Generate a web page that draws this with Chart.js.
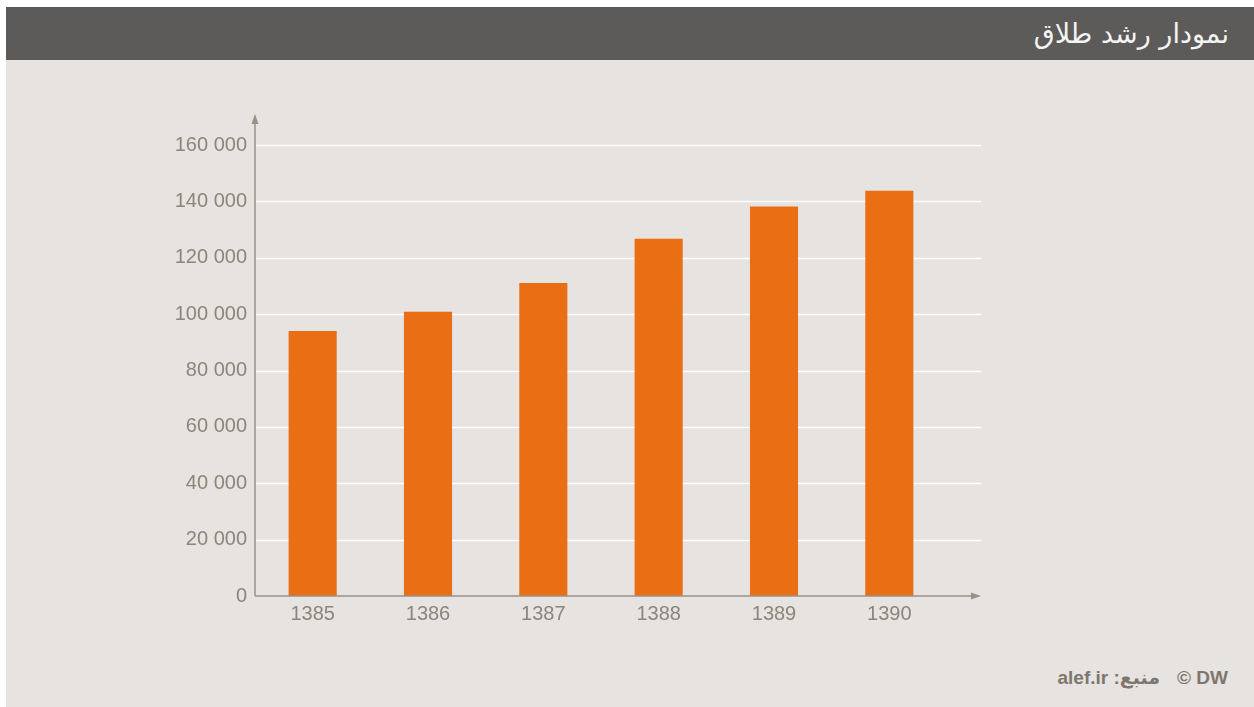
<!DOCTYPE html>
<html>
<head>
<meta charset="utf-8">
<script src="https://cdn.jsdelivr.net/npm/chart.js@4.4.0/dist/chart.umd.min.js"></script>
<style>
  html, body { margin: 0; padding: 0; background: #ffffff; width: 1254px; height: 707px; overflow: hidden; }
  #panel { position: absolute; left: 6px; top: 7px; width: 1248px; height: 700px; background: #e6e3e0; }
  #titlebar { position: absolute; left: 6px; top: 7px; width: 1248px; height: 53px; background: #5c5b59; }
  #title { position: absolute; right: 25px; top: 7px; height: 53px; line-height: 53px; color: #f4f4f4;
           font-family: "DejaVu Sans", Arial, sans-serif; font-size: 27px; direction: rtl; }
  #footer { position: absolute; right: 26px; top: 666px; display: flex; align-items: center; gap: 17px;
            font-family: "Liberation Sans", Arial, "DejaVu Sans", sans-serif; font-weight: bold; font-size: 19px; color: #7d776e; }
  #chart { position: absolute; left: 0; top: 0; }
</style>
</head>
<body>
<div id="panel"></div>
<div id="titlebar"></div>
<div id="title">نمودار رشد طلاق</div>
<div id="footer"><span dir="rtl">منبع: alef.ir</span><span>© DW</span></div>
<canvas id="chart" width="1254" height="707"></canvas>
<script>
const categories = ['1385', '1386', '1387', '1388', '1389', '1390'];
const divorces = [94000, 100800, 111000, 126700, 138200, 143800];
const yTicks = [0, 20000, 40000, 60000, 80000, 100000, 120000, 140000, 160000];

const AXIS_COLOR = '#9a9288';
const TICK_COLOR = '#8c857b';
const GRID_EXT = 34;

function fmt(v) { return String(v).replace(/\B(?=(\d{3})+(?!\d))/g, ' '); }

const decor = {
  id: 'decor',
  beforeDatasetsDraw(chart) {
    const ctx = chart.ctx, a = chart.chartArea, y = chart.scales.y;
    ctx.save();
    ctx.strokeStyle = '#ffffff';
    ctx.lineWidth = 1.5;
    yTicks.forEach(t => {
      if (t === 0) return;
      const py = Math.round(y.getPixelForValue(t)) + 0.5;
      ctx.beginPath();
      ctx.moveTo(a.left, py);
      ctx.lineTo(a.right + GRID_EXT, py);
      ctx.stroke();
    });
    ctx.restore();
  },
  afterDatasetsDraw(chart) {
    const ctx = chart.ctx, a = chart.chartArea, y = chart.scales.y;
    const x0 = a.left, y0 = y.getPixelForValue(0);
    const xEnd = a.right + GRID_EXT, yEnd = a.top - 31;
    ctx.save();
    ctx.strokeStyle = AXIS_COLOR;
    ctx.fillStyle = AXIS_COLOR;
    ctx.lineWidth = 1.5;
    ctx.beginPath();
    ctx.moveTo(x0, y0);
    ctx.lineTo(x0, yEnd + 6);
    ctx.moveTo(x0, y0);
    ctx.lineTo(xEnd - 6, y0);
    ctx.stroke();
    ctx.beginPath();
    ctx.moveTo(x0, yEnd);
    ctx.lineTo(x0 - 3.5, yEnd + 10);
    ctx.lineTo(x0 + 3.5, yEnd + 10);
    ctx.closePath();
    ctx.fill();
    ctx.beginPath();
    ctx.moveTo(xEnd, y0);
    ctx.lineTo(xEnd - 10, y0 - 3.5);
    ctx.lineTo(xEnd - 10, y0 + 3.5);
    ctx.closePath();
    ctx.fill();
    ctx.restore();
  }
};

new Chart(document.getElementById('chart'), {
  type: 'bar',
  data: {
    labels: categories,
    datasets: [{
      data: divorces,
      backgroundColor: '#ea6e14',
      borderWidth: 0,
      categoryPercentage: 1,
      barPercentage: 0.417
    }]
  },
  options: {
    responsive: false,
    animation: false,
    layout: { padding: { left: 0, top: 145, right: 307, bottom: 71 } },
    plugins: { legend: { display: false }, tooltip: { enabled: false } },
    scales: {
      x: {
        grid: { display: false, drawTicks: false },
        border: { display: false },
        ticks: { color: TICK_COLOR, font: { family: 'Liberation Sans, Arial, sans-serif', size: 20 }, padding: 6 },
        afterFit(scale) { scale.height = 40; }
      },
      y: {
        min: 0, max: 160000,
        grid: { display: false, drawTicks: false },
        border: { display: false },
        ticks: {
          stepSize: 20000, padding: 8, color: TICK_COLOR,
          font: { family: 'Liberation Sans, Arial, sans-serif', size: 20 },
          callback: v => fmt(v)
        },
        afterFit(scale) { scale.width = 255; }
      }
    }
  },
  plugins: [decor]
});
</script>
</body>
</html>
